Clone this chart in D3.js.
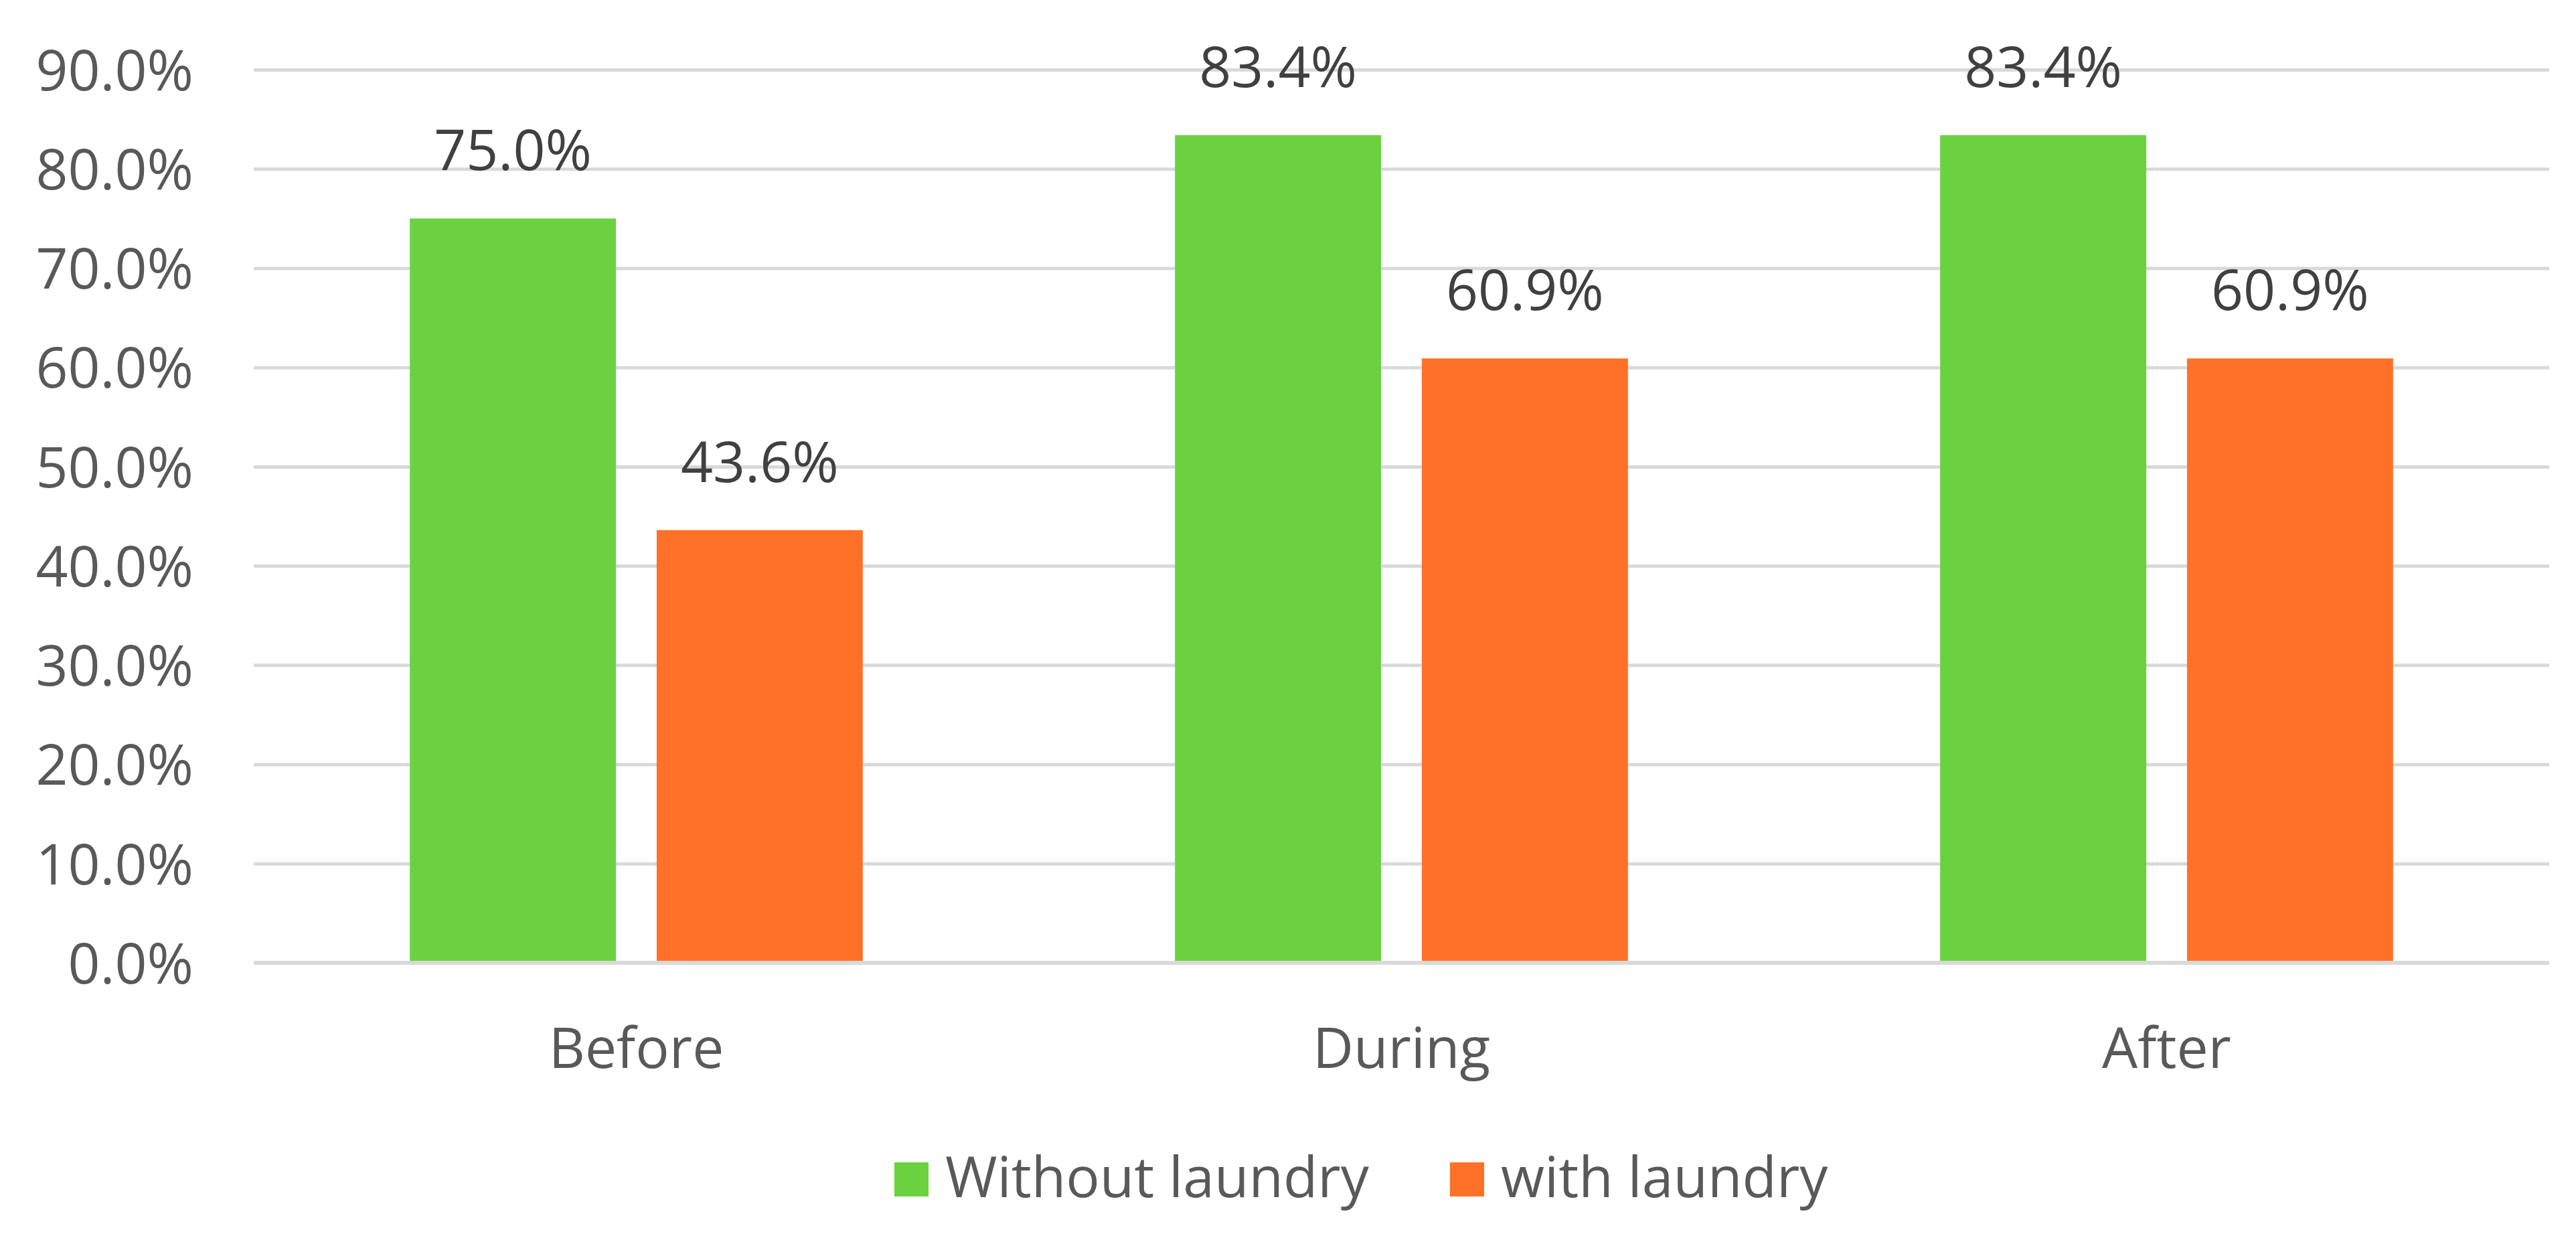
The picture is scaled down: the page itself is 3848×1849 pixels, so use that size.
<!DOCTYPE html>
<html>
<head>
<meta charset="utf-8">
<script src="https://cdn.jsdelivr.net/npm/d3@7"></script>
<style>
  html, body { margin: 0; padding: 0; background: #fff; }
  svg { display: block; font-family: "Open Sans", "Noto Sans", sans-serif; }
  .tick-label { fill: #595959; font-size: 84px; font-family: "Open Sans", "Noto Sans", sans-serif; }
  .data-label { fill: #404040; font-size: 84px; text-anchor: middle; }
  .legend-label { fill: #595959; font-size: 84px; }
</style>
</head>
<body>
<svg id="chart"></svg>
<script>
const categories = ['Before', 'During', 'After'];
const seriesNames = ['Without laundry', 'with laundry'];
const withoutLaundry = [75.0, 83.4, 83.4];
const withLaundry = [43.6, 60.9, 60.9];
const yTicks = [0, 10, 20, 30, 40, 50, 60, 70, 80, 90];
const colors = ['#6BD140', '#FF7128'];

const width = 3848;
const height = 1849;
const margin = { top: 104, right: 40, bottom: 411, left: 379 };
const plotW = 3808 - margin.left;
const plotH = 1438 - margin.top;

const svg = d3.select('#chart')
  .attr('width', width)
  .attr('height', height);

svg.append('rect')
  .attr('width', width)
  .attr('height', height)
  .attr('fill', '#fff');

const g = svg.append('g')
  .attr('transform', `translate(${margin.left},${margin.top})`);

const x0 = d3.scaleBand()
  .domain(categories)
  .range([0, plotW])
  .paddingInner(0.408)
  .paddingOuter(0.204);

const x1 = d3.scaleBand()
  .domain(seriesNames)
  .range([0, x0.bandwidth()])
  .paddingInner(0.165);

const y = d3.scaleLinear()
  .domain([0, 90])
  .range([plotH, 0]);

const color = d3.scaleOrdinal().domain(seriesNames).range(colors);

// gridlines
const grid = g.append('g')
  .call(d3.axisLeft(y).tickValues(yTicks).tickSize(-plotW).tickFormat(''));
grid.select('.domain').remove();
grid.selectAll('.tick line')
  .attr('stroke', '#D9D9D9')
  .attr('stroke-width', 5);

// y tick labels
const yAxis = g.append('g')
  .call(d3.axisLeft(y).tickValues(yTicks).tickSize(0).tickPadding(90)
    .tickFormat(d => d.toFixed(1) + '%'))
  .attr('font-family', null)
  .attr('font-size', null);
yAxis.select('.domain').remove();
yAxis.selectAll('text')
  .attr('class', 'tick-label')
  .attr('fill', null)
  .attr('dy', '0.36em');

// bars
const rows = categories.map((c, i) => ({
  category: c,
  values: [
    { series: seriesNames[0], value: withoutLaundry[i] },
    { series: seriesNames[1], value: withLaundry[i] },
  ],
}));

const groups = g.selectAll('.group')
  .data(rows)
  .enter()
  .append('g')
  .attr('class', 'group')
  .attr('transform', d => `translate(${x0(d.category)},0)`);

groups.selectAll('rect')
  .data(d => d.values)
  .enter()
  .append('rect')
  .attr('x', d => x1(d.series))
  .attr('y', d => y(d.value))
  .attr('width', x1.bandwidth())
  .attr('height', d => plotH - y(d.value))
  .attr('fill', d => color(d.series));

groups.selectAll('.data-label')
  .data(d => d.values)
  .enter()
  .append('text')
  .attr('class', 'data-label')
  .attr('x', d => x1(d.series) + x1.bandwidth() / 2)
  .attr('y', d => y(d.value) - 72)
  .text(d => d.value.toFixed(1) + '%');

// x axis line
g.append('line')
  .attr('x1', 0)
  .attr('x2', plotW)
  .attr('y1', plotH)
  .attr('y2', plotH)
  .attr('stroke', '#D9D9D9')
  .attr('stroke-width', 6);

// category labels
const xAxis = g.append('g')
  .attr('transform', `translate(0,${plotH})`)
  .call(d3.axisBottom(x0).tickSize(0).tickPadding(0))
  .attr('font-family', null)
  .attr('font-size', null);
xAxis.select('.domain').remove();
xAxis.selectAll('text')
  .attr('class', 'tick-label')
  .attr('fill', null)
  .attr('dy', null)
  .attr('y', 157);

// legend
const legend = svg.append('g')
  .attr('transform', 'translate(1336,1736)');

const legendX = [0, 830];
const items = legend.selectAll('.legend-item')
  .data(seriesNames)
  .enter()
  .append('g')
  .attr('class', 'legend-item')
  .attr('transform', (d, i) => `translate(${legendX[i]},0)`);

items.append('rect')
  .attr('width', 51)
  .attr('height', 51)
  .attr('fill', d => color(d));

items.append('text')
  .attr('class', 'legend-label')
  .attr('x', 76)
  .attr('y', 52)
  .text(d => d);
</script>
</body>
</html>
